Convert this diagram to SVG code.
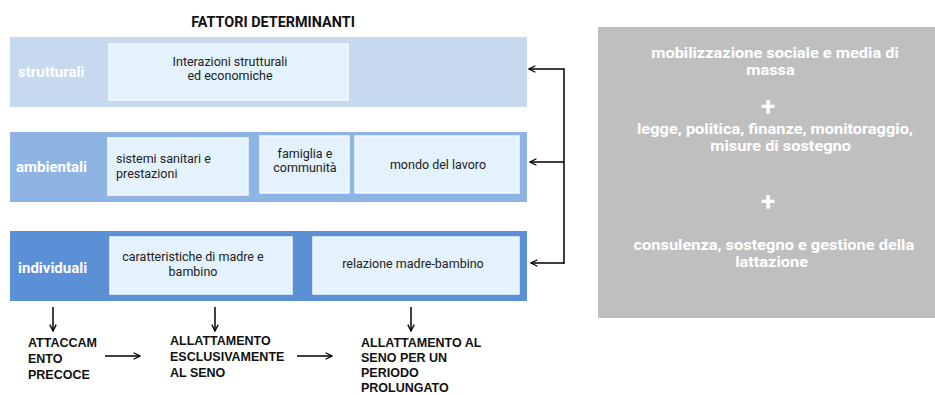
<svg xmlns="http://www.w3.org/2000/svg" width="935" height="395" viewBox="0 0 935 395">
<defs>
<marker id="ah" viewBox="0 0 10 10" refX="9" refY="5" markerWidth="8" markerHeight="8" markerUnits="userSpaceOnUse" orient="auto">
<path d="M1,1 L9,5 L1,9" fill="none" stroke="#000" stroke-width="1.6"/>
</marker>
<style>
.band1{fill:#c6d9ef}
.band2{fill:#8db4e2}
.band3{fill:#5b8fd6}
.inner{fill:#e3f2fc;stroke:#f4faff;stroke-width:1.5}
.lbl{font-family:Roboto,"Liberation Sans",sans-serif;font-weight:bold;font-size:15px;fill:#fff}
.t{font-family:Roboto,"Liberation Sans",sans-serif;font-size:12.5px;fill:#222}
.g{font-family:Roboto,"Liberation Sans",sans-serif;font-weight:bold;font-size:14.5px;fill:#fff;text-anchor:middle}
.plus{font-family:Roboto,"Liberation Sans",sans-serif;font-weight:bold;font-size:26px;fill:#fff;text-anchor:middle}
.b{font-family:"Liberation Sans",Arial,sans-serif;font-weight:bold;font-size:12.5px;fill:#111}
.c{stroke:#000;stroke-width:1.5;fill:none}
</style>
</defs>
<text x="273" y="27" style="font-family:Roboto,'Liberation Sans',sans-serif;font-weight:bold;font-size:14.4px;fill:#111" text-anchor="middle">FATTORI DETERMINANTI</text>
<g id="strutturali">
<rect class="band1" x="10" y="37" width="517" height="70"/>
<text class="lbl" x="18" y="77">strutturali</text>
<g id="interazioni">
<rect class="inner" x="109" y="44" width="239" height="56"/>
<text class="t" x="230" y="66" text-anchor="middle">Interazioni strutturali</text>
<text class="t" x="230" y="80" text-anchor="middle">ed economiche</text>
</g>
</g>
<g id="ambientali">
<rect class="band2" x="10" y="132" width="517" height="70"/>
<text class="lbl" x="16" y="172">ambientali</text>
<g id="sistemi">
<rect class="inner" x="108" y="138" width="140" height="57"/>
<text class="t" x="116" y="163">sistemi sanitari e</text>
<text class="t" x="116" y="178">prestazioni</text>
</g>
<g id="famiglia">
<rect class="inner" x="260" y="136" width="89" height="57"/>
<text class="t" x="305" y="158" text-anchor="middle">famiglia e</text>
<text class="t" x="305" y="172" text-anchor="middle">communità</text>
</g>
<g id="lavoro">
<rect class="inner" x="355" y="136" width="164" height="57"/>
<text class="t" x="438" y="169" text-anchor="middle">mondo del lavoro</text>
</g>
</g>
<g id="individuali">
<rect class="band3" x="10" y="231" width="517" height="70"/>
<text class="lbl" x="18" y="273">individuali</text>
<g id="caratteristiche">
<rect class="inner" x="110" y="237" width="182" height="57"/>
<text class="t" x="193" y="261" text-anchor="middle">caratteristiche di madre e</text>
<text class="t" x="193" y="276" text-anchor="middle">bambino</text>
</g>
<g id="relazione">
<rect class="inner" x="313" y="237" width="206" height="57"/>
<text class="t" x="413" y="268" text-anchor="middle">relazione madre-bambino</text>
</g>
</g>
<g id="interventi">
<rect x="598" y="27" width="337" height="291" fill="#bfbfbf"/>
<g transform="translate(775,0) scale(1.13,1) translate(-775,0)">
<text class="g" x="775" y="58">mobilizzazione sociale e media di</text>
<text class="g" x="771" y="75">massa</text>
<text class="g" x="775" y="134">legge, politica, finanze, monitoraggio,</text>
<text class="g" x="780" y="151">misure di sostegno</text>
<text class="g" x="774" y="250">consulenza, sostegno e gestione della</text>
<text class="g" x="772" y="267">lattazione</text>
</g>
<text class="plus" x="768" y="115">+</text>
<text class="plus" x="768" y="210">+</text>
</g>
<g id="esiti">
<g id="attaccamento">
<text class="b" x="28" y="347">ATTACCAM</text>
<text class="b" x="28" y="363">ENTO</text>
<text class="b" x="28" y="379">PRECOCE</text>
</g>
<g id="esclusivo">
<text class="b" x="170" y="345">ALLATTAMENTO</text>
<text class="b" x="170" y="361">ESCLUSIVAMENTE</text>
<text class="b" x="170" y="377">AL SENO</text>
</g>
<g id="prolungato">
<text class="b" x="361" y="347">ALLATTAMENTO AL</text>
<text class="b" x="361" y="362">SENO PER UN</text>
<text class="b" x="361" y="377">PERIODO</text>
<text class="b" x="361" y="392">PROLUNGATO</text>
</g>
</g>
<g id="connectors">
<path class="c" d="M564,264 V69 H529" marker-end="url(#ah)"/>
<path class="c" d="M564,162 H530" marker-end="url(#ah)"/>
<path class="c" d="M564,263 H531" marker-end="url(#ah)"/>
<path class="c" d="M53,307 V331" marker-end="url(#ah)"/>
<path class="c" d="M215,307 V331" marker-end="url(#ah)"/>
<path class="c" d="M411,307 V331" marker-end="url(#ah)"/>
<path class="c" d="M105,356 H140" marker-end="url(#ah)"/>
<path class="c" d="M297,356 H332" marker-end="url(#ah)"/>
</g>
</svg>
